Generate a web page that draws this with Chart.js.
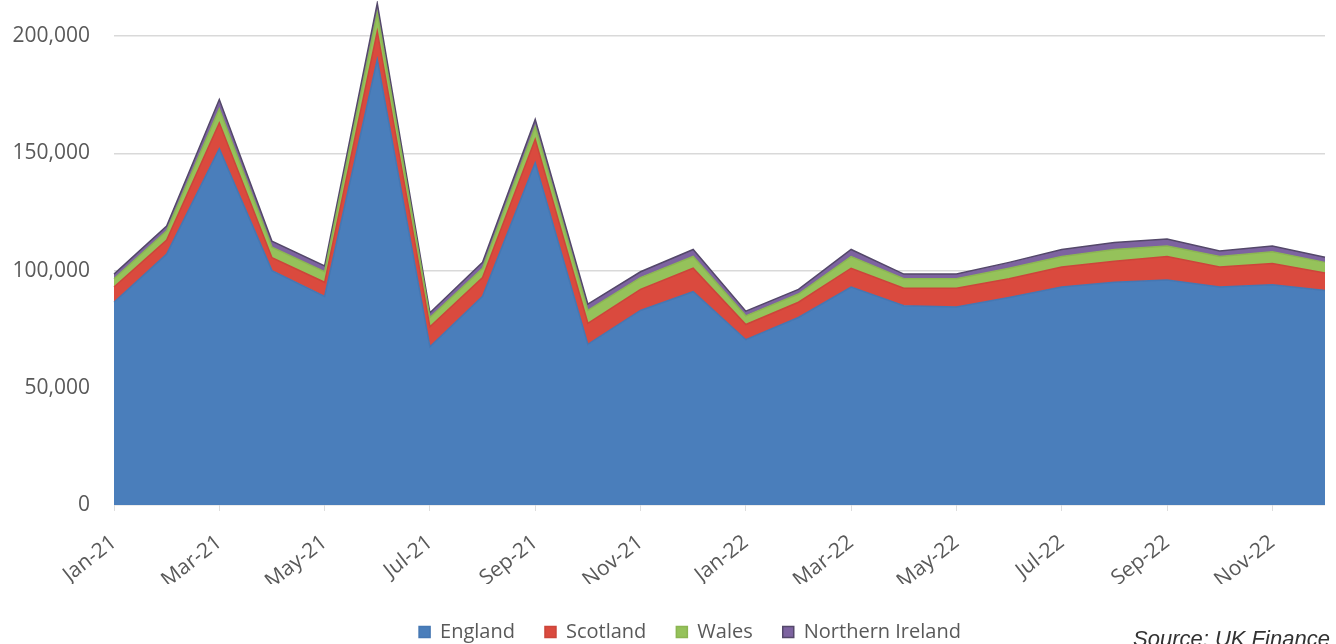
<!DOCTYPE html>
<html>
<head>
<meta charset="utf-8">
<script src="https://cdn.jsdelivr.net/npm/chart.js@4"></script>
<style>
  html, body { margin: 0; padding: 0; background: #fff; overflow: hidden; }
  #wrap { position: relative; width: 1336px; height: 644px; }
  #source {
    position: absolute; left: 1133px; top: 628px;
    font-family: "Liberation Sans", Arial, sans-serif; font-style: italic;
    font-size: 22px; line-height: 22px; color: #333; white-space: nowrap;
  }
</style>
</head>
<body>
<div id="wrap">
  <canvas id="areaChart" width="1336" height="644"></canvas>
  <div id="source">Source: UK Finance</div>
</div>
<script>
// Data
const months = ['Jan-21', 'Feb-21', 'Mar-21', 'Apr-21', 'May-21', 'Jun-21', 'Jul-21', 'Aug-21', 'Sep-21', 'Oct-21', 'Nov-21', 'Dec-21',
                'Jan-22', 'Feb-22', 'Mar-22', 'Apr-22', 'May-22', 'Jun-22', 'Jul-22', 'Aug-22', 'Sep-22', 'Oct-22', 'Nov-22', 'Dec-22'];
const england = [86500, 107000, 152000, 100000, 89000, 190000, 67500, 89000, 146000, 68500, 83000, 91000,
                 70500, 80000, 93000, 85000, 84500, 88500, 93000, 95000, 96000, 93000, 94000, 91500];
const scotland = [6500, 6000, 11000, 5500, 6000, 12000, 8500, 8000, 10000, 9000, 9000, 10000,
                  6500, 6500, 8000, 7500, 8000, 8000, 8500, 9000, 10000, 8500, 9000, 7500];
const wales = [3500, 4000, 6000, 4500, 4500, 8000, 4000, 4000, 5500, 5500, 5000, 5000,
               3700, 3500, 5000, 4000, 4000, 4500, 4500, 5000, 4500, 4500, 5000, 4500];
const northernIreland = [2000, 2000, 4000, 2500, 2500, 4000, 2000, 2500, 3000, 2700, 2500, 3000,
                         2000, 2000, 3000, 2000, 2000, 2500, 3000, 3000, 3000, 2400, 2500, 2200];
const yTicks = [0, 50000, 100000, 150000, 200000];

// Colors
const blue = '#4a7ebb';
const red = '#da4a3e';
const green = '#95c25a';
const purple = '#7d63a0';
const textGray = '#595959';

Chart.defaults.font.family = '"Open Sans", sans-serif';
Chart.defaults.color = textGray;

function areaSet(label, data, color, border, fill) {
    return {
        label: label,
        data: data,
        backgroundColor: color,
        borderColor: border,
        borderWidth: 1.5,
        fill: fill,
        pointRadius: 0,
        tension: 0
    };
}

// nudge the legend so it sits where the original one does
const legendShift = {
    id: 'legendShift',
    afterLayout: (chart) => {
        const lg = chart.legend;
        if (!lg) return;
        lg.left = 55;
        lg.top += 8;
        lg.bottom += 8;
    }
};

new Chart(document.getElementById('areaChart').getContext('2d'), {
    type: 'line',
    data: {
        labels: months,
        datasets: [
            areaSet('England', england, blue, '#4577b3', 'origin'),
            areaSet('Scotland', scotland, red, '#cc453a', '-1'),
            areaSet('Wales', wales, green, '#8bb552', '-1'),
            areaSet('Northern Ireland', northernIreland, purple, '#54486a', '-1')
        ]
    },
    options: {
        responsive: false,
        animation: false,
        layout: { padding: { left: 0, right: 11, top: 1, bottom: 0 } },
        plugins: {
            legend: {
                position: 'bottom',
                labels: {
                    boxWidth: 11,
                    boxHeight: 11,
                    padding: 30,
                    font: { size: 20 },
                    color: textGray
                }
            },
            tooltip: { enabled: false }
        },
        scales: {
            x: {
                offset: false,
                grid: {
                    display: true,
                    drawOnChartArea: false,
                    tickLength: 6,
                    color: (c) => (c.index % 2 === 0 ? '#dedede' : 'rgba(0,0,0,0)')
                },
                border: { display: false },
                ticks: {
                    autoSkip: false,
                    maxRotation: 38,
                    minRotation: 38,
                    padding: 19,
                    font: { size: 21 },
                    color: textGray,
                    callback: function(value, index) {
                        return index % 2 === 0 ? this.getLabelForValue(value) : '';
                    }
                },
                afterFit: (scale) => {
                    scale.height = 79;
                    scale.paddingLeft = 0;
                    scale.paddingRight = 0;
                }
            },
            y: {
                stacked: true,
                min: 0,
                max: 215000,
                afterBuildTicks: (scale) => { scale.ticks = yTicks.map(v => ({ value: v })); },
                grid: { color: '#d9d9d9', lineWidth: 1.5, drawTicks: false },
                border: { display: false },
                ticks: {
                    padding: 24,
                    font: { size: 21 },
                    color: textGray,
                    callback: (value) => value.toLocaleString('en-GB')
                },
                afterFit: (scale) => {
                    scale.width = 114;
                    scale.paddingTop = 0;
                    scale.paddingBottom = 0;
                }
            }
        }
    },
    plugins: [legendShift]
});
</script>
</body>
</html>
